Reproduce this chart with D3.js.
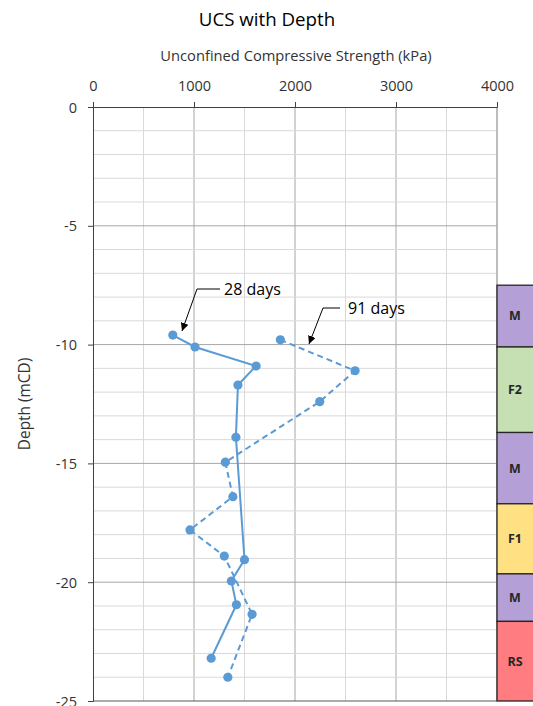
<!DOCTYPE html>
<html><head><meta charset="utf-8">
<script src="https://cdnjs.cloudflare.com/ajax/libs/d3/7.8.5/d3.min.js"></script>
<style>
html,body{margin:0;padding:0;background:#fff;}
svg{display:block;font-family:"Open Sans",sans-serif;}
</style></head>
<body>
<svg id="chart" width="533" height="706"></svg>
<script>
// Data
const ucs28 = [790, 1010, 1615, 1435, 1415, 1500, 1370, 1420, 1170];
const depth28 = [-9.6, -10.1, -10.9, -11.7, -13.9, -19.05, -19.95, -20.95, -23.2];
const ucs91 = [1855, 2595, 2245, 1310, 1385, 960, 1300, 1575, 1335];
const depth91 = [-9.8, -11.1, -12.4, -14.95, -16.4, -17.8, -18.9, -21.35, -24.0];
const xTicks = [0, 1000, 2000, 3000, 4000];
const yTicks = [0, -5, -10, -15, -20, -25];
const strataNames = ["M", "F2", "M", "F1", "M", "RS"];
const strataTop = [-7.5, -10.1, -13.7, -16.7, -19.65, -21.65];
const strataBottom = [-10.1, -13.7, -16.7, -19.65, -21.65, -25];
const strataColors = ["#B4A0D6", "#C6E0B4", "#B4A0D6", "#FFE083", "#B4A0D6", "#FF7C80"];
const seriesLabels = ["28 days", "91 days"];

const svg = d3.select("#chart");
const L = 93, R = 497, T = 107, B = 701;
const x = d3.scaleLinear().domain([0, 4000]).range([L, R]);
const y = d3.scaleLinear().domain([0, -25]).range([T, B]);

// gridlines
const g = svg.append("g");
d3.range(500, 4001, 500).forEach(v => {
  g.append("line").attr("x1", x(v)).attr("x2", x(v)).attr("y1", T).attr("y2", B)
    .attr("stroke", v % 1000 === 0 ? "#a6a6a6" : "#d9d9d9").attr("stroke-width", 1);
});
d3.range(-1, -25, -1).forEach(v => {
  g.append("line").attr("x1", L).attr("x2", R).attr("y1", y(v)).attr("y2", y(v))
    .attr("stroke", v % 5 === 0 ? "#a6a6a6" : "#d9d9d9").attr("stroke-width", 1);
});
g.append("line").attr("x1", L).attr("x2", R).attr("y1", B).attr("y2", B).attr("stroke", "#595959");
g.append("line").attr("x1", R).attr("x2", R).attr("y1", T).attr("y2", B).attr("stroke", "#a6a6a6");

// axes
const xAxis = d3.axisTop(x).tickValues(xTicks).tickSize(5).tickPadding(11).tickFormat(d3.format("d"));
const xa = svg.append("g").attr("transform", `translate(0,${T})`).call(xAxis);
const yAxis = d3.axisLeft(y).tickValues(yTicks).tickSize(5).tickPadding(11).tickFormat(d => d === 0 ? "0" : "-" + Math.abs(d));
const ya = svg.append("g").attr("transform", `translate(${L},0)`).call(yAxis);
[xa, ya].forEach(a => {
  a.select(".domain").attr("stroke", "#404040");
  a.selectAll(".tick line").attr("stroke", "#404040");
  a.selectAll("text").attr("font-size", 14.5).attr("fill", "#333").attr("font-family", "Open Sans");
});
xa.selectAll("text").attr("dy", "0");
ya.selectAll("text").attr("dy", "0.35em");

// strata
const sg = svg.append("g");
strataNames.forEach((n, i) => {
  sg.append("rect").attr("x", R).attr("y", y(strataTop[i])).attr("width", 45)
    .attr("height", y(strataBottom[i]) - y(strataTop[i]))
    .attr("fill", strataColors[i]).attr("stroke", "#262626").attr("stroke-width", 1.3);
  sg.append("text").attr("x", 515).attr("y", (y(strataTop[i]) + y(strataBottom[i])) / 2)
    .attr("dy", "0.35em").attr("text-anchor", "middle").attr("font-size", 12.5).attr("font-weight", "bold")
    .attr("fill", "#262626").text(n);
});

// series
const col = "#5B9BD5";
const line = d3.line().x(d => x(d[0])).y(d => y(d[1]));
const s28 = ucs28.map((v, i) => [v, depth28[i]]);
const s91 = ucs91.map((v, i) => [v, depth91[i]]);
svg.append("path").datum(s91).attr("d", line).attr("fill", "none").attr("stroke", col)
  .attr("stroke-width", 2).attr("stroke-dasharray", "6,4");
svg.append("path").datum(s28).attr("d", line).attr("fill", "none").attr("stroke", col).attr("stroke-width", 2);
[s28, s91].forEach(s => {
  svg.append("g").selectAll("circle").data(s).join("circle")
    .attr("cx", d => x(d[0])).attr("cy", d => y(d[1])).attr("r", 4.6).attr("fill", col);
});

// annotations
const defs = svg.append("defs");
defs.append("marker").attr("id", "arr").attr("viewBox", "0 0 10 10").attr("refX", 10).attr("refY", 5)
  .attr("markerWidth", 8).attr("markerHeight", 8).attr("orient", "auto-start-reverse")
  .append("path").attr("d", "M0,0 L10,5 L0,10 z").attr("fill", "#000");
const ann = [
  {label: seriesLabels[0], tx: 224, ty: 289, pts: [[220, 289], [197, 289], [182, 331]]},
  {label: seriesLabels[1], tx: 348, ty: 308, pts: [[340, 308], [323, 308], [309, 344]]}
];
ann.forEach(a => {
  svg.append("path").attr("d", d3.line()(a.pts)).attr("fill", "none").attr("stroke", "#000")
    .attr("stroke-width", 1).attr("marker-end", "url(#arr)");
  svg.append("text").attr("x", a.tx).attr("y", a.ty).attr("dy", "0.35em").attr("font-size", 16)
    .attr("fill", "#000").text(a.label);
});

// titles
svg.append("text").attr("x", 267).attr("y", 26).attr("text-anchor", "middle")
  .attr("font-size", 18.7).attr("fill", "#000").text("UCS with Depth");
svg.append("text").attr("x", 296).attr("y", 61).attr("text-anchor", "middle")
  .attr("font-size", 14.7).attr("fill", "#333").text("Unconfined Compressive Strength (kPa)");
svg.append("text").attr("transform", `translate(30,${(T + B) / 2}) rotate(-90)`)
  .attr("text-anchor", "middle").attr("font-size", 15.4).attr("fill", "#333").text("Depth (mCD)");
</script>
</body></html>
